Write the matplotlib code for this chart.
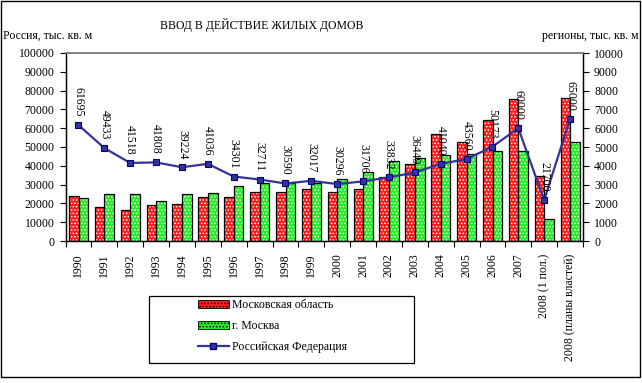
import matplotlib
matplotlib.use("Agg")
import matplotlib.pyplot as plt
from matplotlib.patches import Rectangle, Patch
from matplotlib.lines import Line2D
import numpy as np

plt.rcParams['font.family'] = ['Liberation Serif', 'DejaVu Serif']
plt.rcParams['hatch.linewidth'] = 0.7

categories = ["1990", "1991", "1992", "1993", "1994", "1995", "1996", "1997",
              "1998", "1999", "2000", "2001", "2002", "2003", "2004", "2005",
              "2006", "2007", "2008 (1 пол.)", "2008 (планы властей)"]
mo_oblast = [2400, 1800, 1650, 1900, 1950, 2320, 2330, 2590, 2600, 2750,
             2600, 2780, 3400, 4080, 5670, 5250, 6440, 7540, 3460, 7590]
moskva = [2270, 2500, 2500, 2150, 2500, 2540, 2900, 3070, 3070, 3070,
          3280, 3650, 4240, 4410, 4560, 4610, 4770, 4770, 1150, 5280]
russia = [61695, 49433, 41518, 41808, 39224, 41036, 34301, 32711, 30590, 32017,
          30296, 31706, 33832, 36449, 41040, 43560, 50173, 60000, 21700, 65000]

W, H = 642, 383
fig = plt.figure(figsize=(W / 100, H / 100), dpi=100)
fig.patch.set_facecolor('white')

L, R, B, T = 65.5, 583, 241, 53
ax = fig.add_axes([L / W, 1 - B / H, (R - L) / W, (B - T) / H])
x = np.arange(len(categories))
bw = 0.37
red = '#ff1a1a'
green = '#22ee22'
hatch = '.....'
ax.bar(x - 0.18, mo_oblast, bw, color=red, edgecolor='white', hatch=hatch, linewidth=0, zorder=2)
ax.bar(x - 0.18, mo_oblast, bw, fill=False, edgecolor='black', linewidth=0.9, zorder=3)
ax.bar(x + 0.19, moskva, bw, color=green, edgecolor='white', hatch=hatch, linewidth=0, zorder=2)
ax.bar(x + 0.19, moskva, bw, fill=False, edgecolor='black', linewidth=0.9, zorder=3)
ax.set_ylim(0, 10000)
ax.set_xlim(-0.5, len(categories) - 0.5)
ax.set_yticks(np.arange(0, 10001, 1000))

ax.set_xticks(np.arange(-0.5, len(categories), 1))
ax.set_xticklabels([])
ax.set_xticks(x, minor=True)
ax.set_xticklabels(categories, minor=True, rotation=90, fontsize=8.5, va='top', ha='center')
ax.tick_params(axis='x', which='major', direction='out', length=4, width=0.8)
ax.tick_params(axis='x', which='minor', length=0, pad=9)

ax2 = ax.twinx()
ax2.plot(x, russia, color='#333399', lw=1.6, marker='s', markersize=4.5,
         markerfacecolor='#333399', markeredgecolor='#000080', markeredgewidth=0.8, zorder=4)
ax2.set_ylim(0, 100000)
ax2.set_yticks(np.arange(0, 100001, 10000))
for i, v in enumerate(russia):
    ax2.annotate(str(v), (i, v), xytext=(0, 6), textcoords='offset points',
                 rotation=-90, ha='center', va='bottom', fontsize=8.5, zorder=6)

# sides: bars (regions) on right axis, Russia line on left axis
ax.yaxis.tick_right()
ax.yaxis.set_label_position('right')
ax2.yaxis.tick_left()
ax2.yaxis.set_label_position('left')
ax.tick_params(axis='y', direction='out', length=4, width=0.8, pad=4, labelsize=8.5)
ax2.tick_params(axis='y', direction='out', length=4, width=0.8, pad=4, labelsize=8.5)

for a in (ax, ax2):
    a.spines['top'].set_color('#808080')
    a.spines['top'].set_linewidth(1.2)
    for s in ('left', 'right', 'bottom'):
        a.spines[s].set_color('black')
        a.spines[s].set_linewidth(0.9)
    a.set_facecolor('none')

fig.text(261.5 / W, 1 - 25 / H, "ВВОД В ДЕЙСТВИЕ ЖИЛЫХ ДОМОВ", ha='center', va='center', fontsize=8.5)
fig.text(3 / W, 1 - 36 / H, "Россия, тыс. кв. м", ha='left', va='center', fontsize=8.5)
fig.text(638 / W, 1 - 36 / H, "регионы, тыс. кв. м", ha='right', va='center', fontsize=8.5)

# legend box
lx0, ly0, lx1, ly1 = 149, 296, 414, 363
fig.patches.append(Rectangle((lx0 / W, 1 - ly1 / H), (lx1 - lx0) / W, (ly1 - ly0) / H,
                             transform=fig.transFigure, fill=False, edgecolor='black', lw=0.9))
handles = [Patch(facecolor=red, edgecolor='black', hatch=hatch, lw=0.6),
           Patch(facecolor=green, edgecolor='black', hatch=hatch, lw=0.6),
           Line2D([], [], color='#333399', lw=1.6, marker='s', markersize=4.5,
                  markerfacecolor='#333399', markeredgecolor='#000080')]
leg = fig.legend(handles, ["Московская область", "г. Москва", "Российская Федерация"],
                 loc='upper left', bbox_to_anchor=(198 / W, 1 - 299 / H), frameon=False,
                 fontsize=8.5, handlelength=2.6, handleheight=0.7, handletextpad=0.3,
                 labelspacing=0.75, borderpad=0, borderaxespad=0)

# outer border
fig.patches.append(Rectangle((1 / W, 1 - 377 / H), 639 / W, 376 / H, transform=fig.transFigure,
                             fill=False, edgecolor='black', lw=1.0))

fig.savefig('out.png', dpi=100)
